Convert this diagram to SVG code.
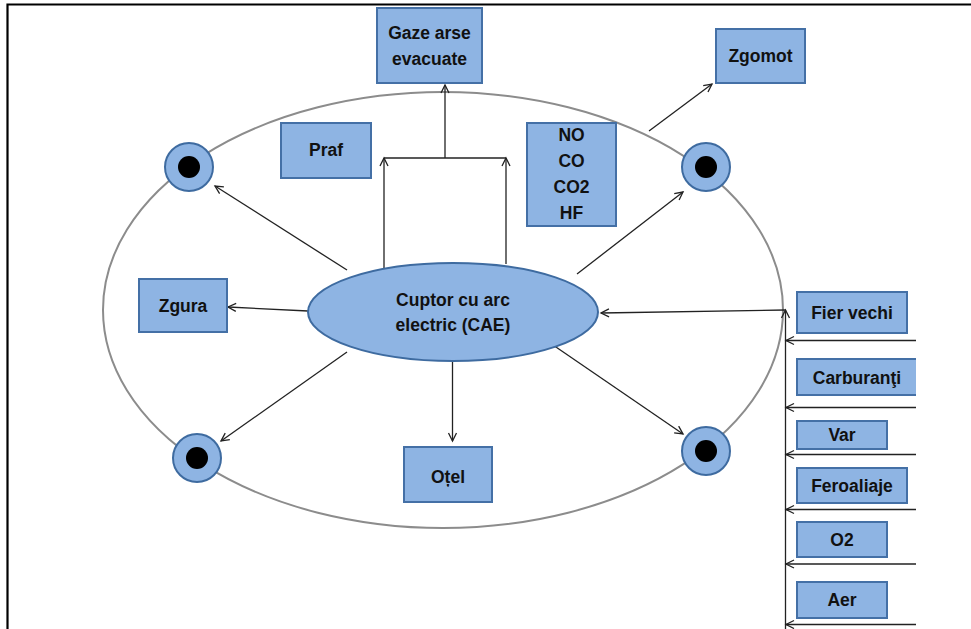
<svg xmlns="http://www.w3.org/2000/svg" width="971" height="629" viewBox="0 0 971 629">
  <style>
    .box { fill: #8EB4E3; stroke: #4470A6; stroke-width: 2; }
    .lbl { font-family: "Liberation Sans", Arial, sans-serif; font-weight: bold; font-size: 17.5px; fill: #111; text-anchor: middle; dominant-baseline: central; }
    .line { fill: none; stroke: #222; stroke-width: 1.3; }
    .arr { fill: none; stroke: #222; stroke-width: 1.3; marker-end: url(#head); }
    .electrode { fill: #8EB4E3; stroke: #3E6BA0; stroke-width: 2; }
  </style>
  <defs>
    <marker id="head" markerUnits="userSpaceOnUse" markerWidth="12" markerHeight="12" refX="9" refY="5" orient="auto">
      <path d="M1,1 L9,5 L1,9" fill="none" stroke="#222" stroke-width="1.3"/>
    </marker>
    <clipPath id="cropRight">
      <rect x="0" y="0" width="916" height="629"/>
    </clipPath>
  </defs>

  <rect width="971" height="629" fill="#fff"/>
  <!-- page frame -->
  <path d="M7.5,629 V4.5 H971" fill="none" stroke="#000" stroke-width="2.2"/>

  <!-- plant boundary -->
  <ellipse id="boundary" cx="443" cy="310" rx="340" ry="218" fill="none" stroke="#8C8C8C" stroke-width="2"/>

  <g id="connectors">
    <!-- off-gas collection -->
    <line class="arr" x1="384" y1="268" x2="384" y2="158"/>
    <line class="arr" x1="506" y1="264" x2="506" y2="158"/>
    <line class="line" x1="384" y1="158" x2="506" y2="158"/>
    <line class="arr" x1="445" y1="158" x2="445" y2="85"/>
    <!-- noise -->
    <line class="arr" x1="649" y1="131" x2="712" y2="84"/>
    <!-- to electrodes -->
    <line class="arr" x1="347" y1="270" x2="215" y2="186"/>
    <line class="arr" x1="577" y1="274" x2="683" y2="192"/>
    <line class="arr" x1="347" y1="352" x2="221" y2="441"/>
    <line class="arr" x1="553" y1="345" x2="683" y2="434"/>
    <!-- slag and steel -->
    <line class="arr" x1="308" y1="311" x2="228" y2="307"/>
    <line class="arr" x1="452.5" y1="361" x2="452.5" y2="441"/>
    <!-- charge feed -->
    <line class="arr" x1="785.5" y1="629" x2="785.5" y2="310"/>
    <line class="arr" x1="785.5" y1="310" x2="601" y2="313"/>
    <g clip-path="url(#cropRight)">
      <line class="arr" x1="916" y1="340.5" x2="786" y2="340.5"/>
      <line class="arr" x1="916" y1="407.5" x2="786" y2="407.5"/>
      <line class="arr" x1="916" y1="454.5" x2="786" y2="454.5"/>
      <line class="arr" x1="916" y1="509.5" x2="786" y2="509.5"/>
      <line class="arr" x1="916" y1="564" x2="786" y2="564"/>
      <line class="arr" x1="916" y1="624.5" x2="786" y2="624.5"/>
    </g>
  </g>

  <g id="cae">
    <ellipse cx="453" cy="312" rx="145" ry="49" fill="#8EB4E3" stroke="#3E6BA0" stroke-width="2"/>
    <text class="lbl" x="453" y="300">Cuptor cu arc</text>
    <text class="lbl" x="453" y="325">electric (CAE)</text>
  </g>

  <g id="electrode-tl"><circle class="electrode" cx="189" cy="167" r="24"/><circle cx="189" cy="167" r="11" fill="#000"/></g>
  <g id="electrode-tr"><circle class="electrode" cx="706" cy="167" r="24"/><circle cx="706" cy="167" r="11" fill="#000"/></g>
  <g id="electrode-bl"><circle class="electrode" cx="197" cy="458" r="24"/><circle cx="197" cy="458" r="11" fill="#000"/></g>
  <g id="electrode-br"><circle class="electrode" cx="706" cy="451" r="24"/><circle cx="706" cy="451" r="11" fill="#000"/></g>

  <g id="gaze">
    <rect class="box" x="377" y="8" width="105" height="75"/>
    <text class="lbl" x="429.5" y="33">Gaze arse</text>
    <text class="lbl" x="429.5" y="59">evacuate</text>
  </g>
  <g id="zgomot">
    <rect class="box" x="716" y="29" width="89" height="54"/>
    <text class="lbl" x="760.5" y="56">Zgomot</text>
  </g>
  <g id="praf">
    <rect class="box" x="281" y="123" width="90" height="55"/>
    <text class="lbl" x="326" y="150">Praf</text>
  </g>
  <g id="noxe">
    <rect class="box" x="527" y="123" width="89" height="103"/>
    <text class="lbl" x="571.5" y="135">NO</text>
    <text class="lbl" x="571.5" y="161">CO</text>
    <text class="lbl" x="571.5" y="187">CO2</text>
    <text class="lbl" x="571.5" y="213">HF</text>
  </g>
  <g id="zgura">
    <rect class="box" x="139" y="279" width="88" height="53"/>
    <text class="lbl" x="183" y="306">Zgura</text>
  </g>
  <g id="otel">
    <rect class="box" x="404" y="447" width="88" height="55"/>
    <text class="lbl" x="448" y="477">Oțel</text>
  </g>

  <g clip-path="url(#cropRight)">
    <g id="fier-vechi">
      <rect class="box" x="797" y="292" width="110" height="41"/>
      <text class="lbl" x="852" y="313">Fier vechi</text>
    </g>
    <g id="carburanti">
      <rect class="box" x="797" y="359" width="130" height="36"/>
      <text class="lbl" x="857" y="378">Carburanţi</text>
    </g>
    <g id="var">
      <rect class="box" x="797" y="421" width="90" height="28"/>
      <text class="lbl" x="842" y="435">Var</text>
    </g>
    <g id="feroaliaje">
      <rect class="box" x="797" y="468" width="110" height="35"/>
      <text class="lbl" x="852" y="485.5">Feroaliaje</text>
    </g>
    <g id="o2">
      <rect class="box" x="797" y="522" width="90" height="35"/>
      <text class="lbl" x="842" y="540">O2</text>
    </g>
    <g id="aer">
      <rect class="box" x="797" y="582" width="90" height="36"/>
      <text class="lbl" x="842" y="600">Aer</text>
    </g>
  </g>
</svg>
